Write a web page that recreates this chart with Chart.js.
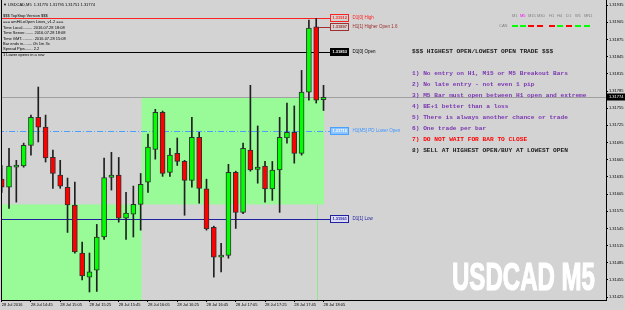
<!DOCTYPE html>
<html lang="en">
<head>
<meta charset="UTF-8">
<title>USDCAD M5</title>
<script src="https://cdn.jsdelivr.net/npm/chart.js"></script>
<style>
  html, body { margin: 0; padding: 0; background: #d3d3d3; overflow: hidden; }
  #wrap { width: 625px; height: 310px; }
</style>
</head>
<body>
<div id="wrap"><canvas id="chart" width="625" height="310"></canvas></div>
<script>
// M5 bars, 28 Jul 14:25 .. 18:05
const opens  = [1.31631,1.31617,1.31652,1.31654,1.31690,1.31739,1.31722,1.31669,1.31638,1.31617,1.31586,1.31502,1.31460,1.31472,1.31530,
                1.31634,1.31638,1.31563,1.31570,1.31587,1.31626,1.31683,1.31748,1.31643,1.31676,1.31662,1.31629,1.31704,1.31614,1.31547,
                1.31495,1.31498,1.31643,1.31573,1.31682,1.31648,1.31654,1.31614,1.31647,1.31703,1.31713,1.31676,1.31783,1.31897,1.31770];
const highs  = [1.31655,1.31685,1.31664,1.31694,1.31743,1.31792,1.31743,1.31682,1.31664,1.31633,1.31626,1.31521,1.31502,1.31552,1.31668,
                1.31678,1.31669,1.31608,1.31619,1.31641,1.31710,1.31753,1.31750,1.31685,1.31703,1.31664,1.31739,1.31713,1.31631,1.31549,
                1.31519,1.31657,1.31645,1.31694,1.31795,1.31724,1.31662,1.31662,1.31739,1.31764,1.31759,1.31821,1.31909,1.31912,1.31795];
const lows   = [1.31608,1.31580,1.31591,1.31652,1.31673,1.31696,1.31661,1.31615,1.31615,1.31538,1.31502,1.31455,1.31434,1.31435,1.31526,
                1.31612,1.31556,1.31526,1.31530,1.31542,1.31608,1.31666,1.31636,1.31636,1.31655,1.31568,1.31617,1.31589,1.31542,1.31460,
                1.31469,1.31493,1.31545,1.31571,1.31645,1.31624,1.31591,1.31594,1.31573,1.31694,1.31659,1.31673,1.31769,1.31764,1.31751];
const closes = [1.31617,1.31654,1.31655,1.31690,1.31739,1.31722,1.31668,1.31641,1.31619,1.31586,1.31504,1.31462,1.31469,1.31530,1.31634,
                1.31638,1.31563,1.31572,1.31587,1.31622,1.31687,1.31748,1.31641,1.31673,1.31662,1.31629,1.31704,1.31615,1.31544,1.31495,
                1.31498,1.31643,1.31573,1.31685,1.31647,1.31652,1.31614,1.31647,1.31704,1.31713,1.31676,1.31783,1.31895,1.31769,1.31774];

const timeTickBars = [0, 4, 8, 12, 16, 20, 24, 28, 32, 36, 40, 44];
const timeLabels = ['28 Jul 2016', '28 Jul 14:45', '28 Jul 15:05', '28 Jul 15:25', '28 Jul 15:45', '28 Jul 16:05',
                    '28 Jul 16:25', '28 Jul 16:45', '28 Jul 17:05', '28 Jul 17:25', '28 Jul 17:45', '28 Jul 18:05'];
const priceTicks = [1.31425, 1.31455, 1.31485, 1.31515, 1.31545, 1.31575, 1.31605, 1.31635, 1.31665,
                    1.31695, 1.31725, 1.31755, 1.31785, 1.31815, 1.31845, 1.31875, 1.31905, 1.31935];
const bidPrice = 1.31774;

// hi/lo/open levels
const levelPrices = [1.31912, 1.31897, 1.31853, 1.31715, 1.31561];
const levelNames  = ['D1[0] High', 'H1[1] Higher Open 1.6', 'D1[0] Open', 'H1[M5] PD Lower Open', 'D1[1] Low'];
const levelStarts = [-2, 43.4, -2, -2, -2];
const levelEnd = 44.9;

// H1 boxes
const boxStarts = [-2, 19.13];
const boxEnds   = [19.13, 44.07];
const boxLows   = [1.31400, 1.31587];
const boxHighs  = [1.31587, 1.31774];

const tfNames  = ['M1', 'M5', 'M15', 'M30', 'H1', 'H4', 'D1', 'W1', 'MN1'];
const canTrend = ['up', 'up', 'dn', 'dn', 'dn', 'up', 'dn', 'up', 'up'];

const infoLines = [
  '$$$ TopStop Version $$$',
  '=== amHiLoOpen Lines_v1.2 ===',
  'Time Local......... 2016.07.28 18:08',
  'Time Server........ 2016.07.28 18:08',
  'Time GMT........... 2016.07.28 15:08',
  'Bar ends in........ 0h 1m 3s',
  'Spread Pips....... 2.2',
  '1 Lower opens in a row'
];
const rules = [
  '$$$ HIGHEST OPEN/LOWEST OPEN TRADE $$$',
  '',
  '1) No entry on H1, M15 or M5 Breakout Bars',
  '2) No late entry - not even 1 pip',
  '3) M5 Bar must open between H1 open and extreme',
  '4) BE+1 better than a loss',
  '5) There is always another chance or trade',
  '6) One trade per bar',
  '7) DO NOT WAIT FOR BAR TO CLOSE',
  '8) SELL AT HIGHEST OPEN/BUY AT LOWEST OPEN'
];

const GREEN = '#00ff00', RED = '#ff0000';
const bars = opens.map((o, i) => i);
const bodies = bars.map(i => ({ x: i, y: [opens[i], closes[i]] }));
const wicks = bars.map(i => ({ x: i, y: [lows[i], highs[i]] }));

const small = "'Liberation Sans', Arial, sans-serif";

const overlay = {
  id: 'overlay',
  beforeDatasetsDraw(chart) {
    const { ctx, chartArea: a, scales: { x, y } } = chart;
    ctx.save();
    ctx.beginPath();
    ctx.rect(a.left, a.top, a.right - a.left, a.bottom - a.top);
    ctx.clip();

    ctx.fillStyle = '#98fb98';
    boxStarts.forEach((s, i) => {
      const x0 = x.getPixelForValue(s), x1 = x.getPixelForValue(boxEnds[i]);
      const y0 = y.getPixelForValue(boxHighs[i]), y1 = y.getPixelForValue(boxLows[i]);
      ctx.fillRect(x0, y0, x1 - x0, y1 - y0);
    });

    // thin green session line
    const vx = Math.round(x.getPixelForValue(43.1)) + 0.5;
    ctx.strokeStyle = '#8fe88f';
    ctx.lineWidth = 1;
    ctx.beginPath();
    ctx.moveTo(vx, y.getPixelForValue(boxLows[1]));
    ctx.lineTo(vx, a.bottom);
    ctx.stroke();

    // bid line
    const by = Math.round(y.getPixelForValue(bidPrice)) + 0.5;
    ctx.strokeStyle = '#a0a0a0';
    ctx.beginPath();
    ctx.moveTo(a.left, by);
    ctx.lineTo(a.right, by);
    ctx.stroke();

    const lineColors = ['#ff2020', '#a03030', '#000000', '#4aa0ff', '#2020a0'];
    levelPrices.forEach((p, i) => {
      const ly = Math.round(y.getPixelForValue(p)) + 0.5;
      ctx.strokeStyle = lineColors[i];
      ctx.setLineDash(i === 3 ? [6, 2, 1, 2] : []);
      ctx.beginPath();
      ctx.moveTo(x.getPixelForValue(levelStarts[i]), ly);
      ctx.lineTo(x.getPixelForValue(levelEnd), ly);
      ctx.stroke();
    });
    ctx.setLineDash([]);

    // watermark
    ctx.font = "bold 38px 'Liberation Sans Narrow', 'Liberation Sans', sans-serif";
    ctx.fillStyle = '#ffffff';
    ctx.strokeStyle = '#ffffff';
    ctx.lineWidth = 1.2;
    ctx.textBaseline = 'alphabetic';
    const w = ctx.measureText('USDCAD M5').width;
    ctx.translate(452, 290);
    ctx.scale(143 / w, 1);
    ctx.fillText('USDCAD M5', 0, 0);
    ctx.strokeText('USDCAD M5', 0, 0);
    ctx.restore();
  },
  afterDraw(chart) {
    const { ctx, chartArea: a, scales: { x, y } } = chart;
    ctx.save();
    // left frame
    ctx.strokeStyle = '#000';
    ctx.lineWidth = 1;
    ctx.beginPath();
    ctx.moveTo(a.left + 0.5, a.top);
    ctx.lineTo(a.left + 0.5, a.bottom);
    ctx.stroke();

    ctx.textBaseline = 'middle';
    ctx.textAlign = 'left';
    ctx.font = '4px ' + small;
    ctx.fillStyle = '#000';
    ctx.fillText('\u25BC USDCAD,M5  1.31770 1.31795 1.31751 1.31774', 3, 5);
    infoLines.forEach((t, i) => {
      const yy = [15.5, 22, 27.5, 33, 38.5, 44, 49, 55][i];
      ctx.fillText(t, 3, yy);
    });

    // timeframe panel
    const tfX = [512, 520, 528, 537, 549, 557, 566, 575, 584];
    tfNames.forEach((t, i) => {
      ctx.fillStyle = t === 'M5' ? '#ff00ff' : '#808080';
      ctx.fillText(t, tfX[i], 16);
    });
    ctx.fillStyle = '#808080';
    ctx.fillText('CAN', 499, 26);
    canTrend.forEach((d, i) => {
      ctx.fillStyle = d === 'up' ? GREEN : RED;
      ctx.fillRect(tfX[i], 25, 6, 2);
    });

    // rules block
    ctx.font = "bold 6.2px 'Liberation Mono', 'Courier New', monospace";
    rules.forEach((t, i) => {
      ctx.fillStyle = i === 0 || i === 9 ? '#202020' : i === 8 ? '#ff0000' : '#7a35b0';
      ctx.fillText(t, 412, 51 + i * 11);
    });

    // level labels
    const boxFill   = ['#d3d3d3', '#d3d3d3', '#000000', '#8cc4ff', '#dcdcf4'];
    const boxBorder = ['#ff2020', '#a03030', '#000000', '#4aa0ff', '#2020a0'];
    const boxText   = ['#ff2020', '#a03030', '#ffffff', '#ffffff', '#2020a0'];
    const nameColor = ['#ff2020', '#a03030', '#000000', '#3d96ff', '#2020a0'];
    const lx = Math.round(x.getPixelForValue(levelEnd)) + 0.5;
    levelPrices.forEach((p, i) => {
      const ly = Math.round(y.getPixelForValue(p));
      ctx.fillStyle = boxFill[i];
      ctx.fillRect(lx, ly - 4, 18, 8);
      ctx.strokeStyle = boxBorder[i];
      ctx.strokeRect(lx, ly - 3.5, 18, 7);
      ctx.font = 'bold 4px ' + small;
      ctx.fillStyle = boxText[i];
      ctx.fillText(p.toFixed(5), lx + 2, ly);
      ctx.font = '4.5px ' + small;
      ctx.fillStyle = nameColor[i];
      ctx.fillText(levelNames[i], lx + 22, ly);
    });

    // bid label on axis
    const by = Math.round(y.getPixelForValue(bidPrice));
    ctx.fillStyle = '#000';
    ctx.fillRect(a.right + 1, by - 3.5, 19, 7);
    ctx.fillStyle = '#fff';
    ctx.font = '4px ' + small;
    ctx.fillText(bidPrice.toFixed(5), a.right + 3, by);
    ctx.restore();
  }
};

new Chart(document.getElementById('chart'), {
  type: 'bar',
  data: {
    datasets: [
      {
        data: wicks,
        backgroundColor: '#202020',
        barThickness: 1,
        grouped: false,
        order: 2
      },
      {
        data: bodies,
        backgroundColor: c => closes[c.dataIndex] >= opens[c.dataIndex] ? GREEN : RED,
        borderColor: '#303030',
        borderWidth: 1,
        borderSkipped: false,
        barThickness: 5,
        minBarLength: 2,
        grouped: false,
        order: 1
      }
    ]
  },
  options: {
    responsive: false,
    animation: false,
    devicePixelRatio: 1,
    layout: { padding: { left: 1, top: 0, right: 0, bottom: 0 } },
    plugins: { legend: { display: false }, tooltip: { enabled: false } },
    scales: {
      x: {
        type: 'linear',
        offset: false,
        min: -0.096,
        max: 82.62,
        afterBuildTicks: s => { s.ticks = timeTickBars.map(v => ({ value: v })); },
        afterFit: s => { s.height = 10; s.paddingLeft = 0; s.paddingRight = 0; },
        ticks: {
          callback: (v, i) => timeLabels[i],
          align: 'start',
          autoSkip: false,
          maxRotation: 0,
          padding: 0,
          color: '#000',
          font: { size: 4, family: small }
        },
        grid: { offset: false, drawOnChartArea: false, tickLength: 2, color: '#000' },
        border: { color: '#000' }
      },
      y: {
        position: 'right',
        min: 1.31420,
        max: 1.31944,
        afterBuildTicks: s => { s.ticks = priceTicks.map(v => ({ value: v })); },
        afterFit: s => { s.width = 19; s.paddingTop = 0; s.paddingBottom = 0; },
        ticks: {
          callback: v => v.toFixed(5),
          padding: 1,
          color: '#000',
          font: { size: 4, family: small }
        },
        grid: { drawOnChartArea: false, tickLength: 2, color: '#000' },
        border: { color: '#000' }
      }
    }
  },
  plugins: [overlay]
});
</script>
</body>
</html>
